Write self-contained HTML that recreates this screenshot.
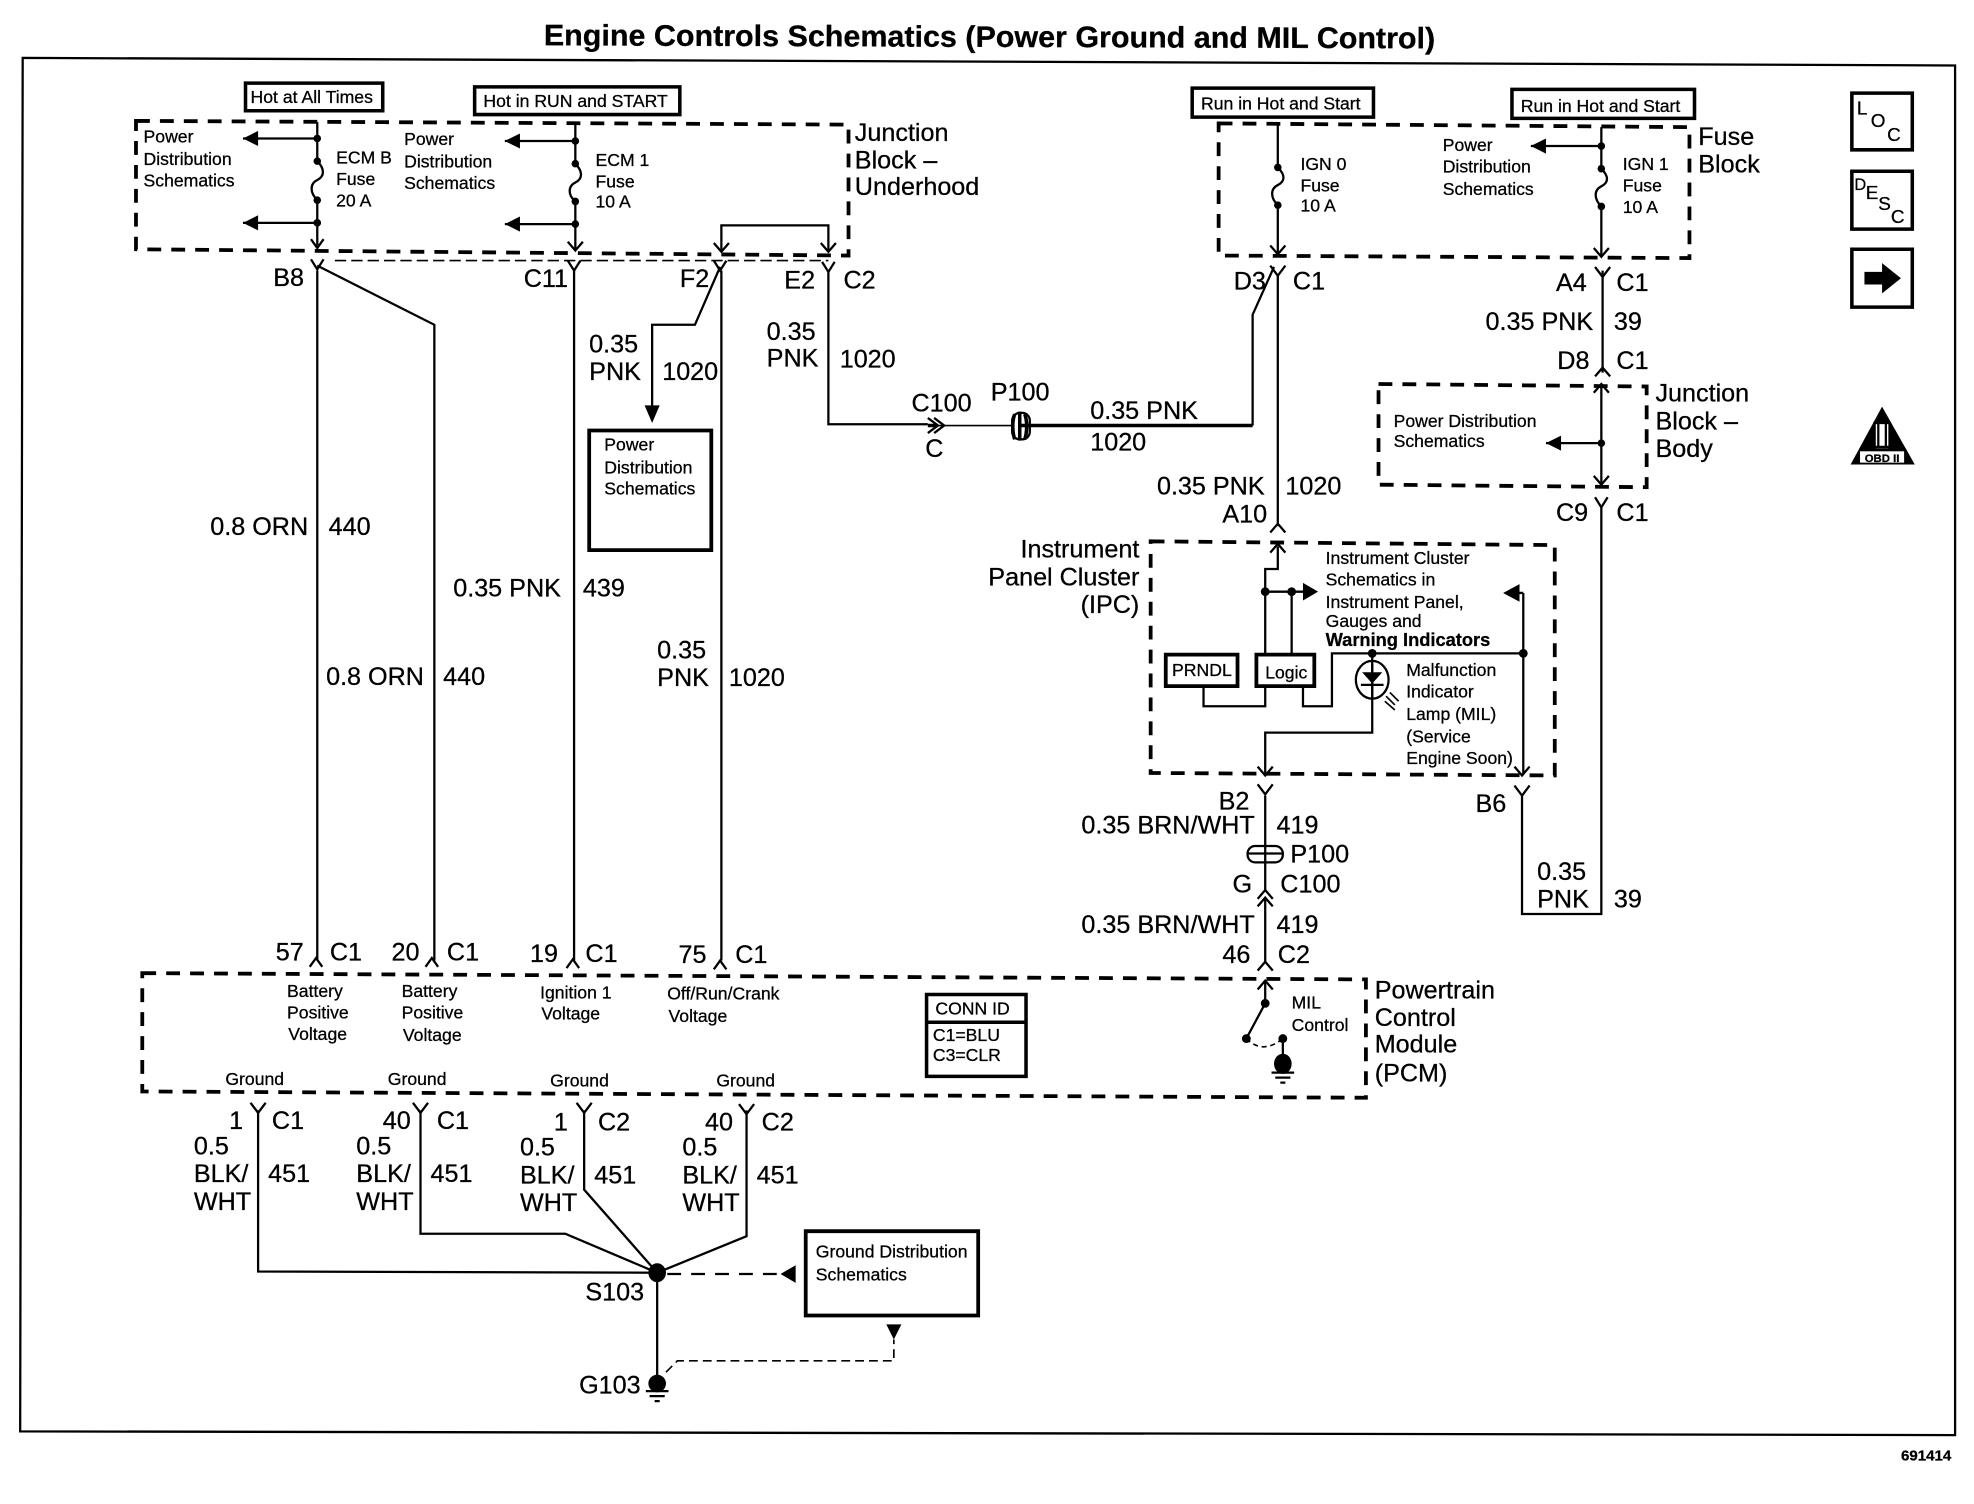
<!DOCTYPE html>
<html><head><meta charset="utf-8"><title>Engine Controls Schematics</title>
<style>
html,body{margin:0;padding:0;background:#fff}
svg{display:block}
text{font-family:"Liberation Sans",sans-serif;fill:#000;stroke:#000;stroke-width:.22}
.s{font-size:14px}
.m{font-size:20px}
.t{font-size:23.6px;font-weight:bold}
.b{font-weight:bold}
.l{fill:none;stroke:#000;stroke-width:1.8}
.n{fill:none;stroke:#000;stroke-width:1.3}
.h{fill:none;stroke:#000;stroke-width:2.8}
.d{fill:none;stroke:#000;stroke-width:3;stroke-dasharray:11 8}
.k{fill:#000}
</style></head><body>
<svg xmlns="http://www.w3.org/2000/svg" width="1974" height="1504" viewBox="0 0 1568 1194.7">
<rect width="1568" height="1195" fill="#fff"/>
<text class="t" x="432" y="36" textLength="708" lengthAdjust="spacingAndGlyphs" transform="rotate(.2 432 36)">Engine Controls Schematics (Power Ground and MIL Control)</text>
<path class="l" stroke-width="2" d="M18 46L1553 52V1140L16 1137Z"/>

<!-- header boxes -->
<g class="h">
<path d="M195 66H304V88H195Z"/><path d="M377 69H540V91H377Z"/><path d="M947 70H1091V93H947Z"/><path d="M1201 71H1346V94H1201Z"/>
<path d="M468 342H565V437H468Z" stroke-width="3"/><path d="M640 978H777V1045H640Z" stroke-width="3"/>
<path d="M926 520H983V545H926Z" stroke-width="3"/><path d="M998 520H1044V545H998Z" stroke-width="3"/>
<path d="M736 790H815V855H736ZM736 812H815"/>
<path d="M1471 74H1519V119H1471Z"/><path d="M1471 136H1519V182H1471Z"/><path d="M1471 198H1519V244H1471Z"/>
</g>
<text class="s" x="199" y="82">Hot at All Times</text>
<text class="s" x="384" y="85">Hot in RUN and START</text>
<text class="s" x="954" y="87">Run in Hot and Start</text>
<text class="s" x="1208" y="89">Run in Hot and Start</text>

<!-- dashed enclosures -->
<path class="d" d="M108 96L674 99V203L108 198Z"/>
<path class="d" d="M968 98L1342 101V205L968 203Z"/>
<path class="d" d="M1095 305L1308 307V387L1095 385Z"/>
<path class="d" d="M914 430L1235 433V616L914 614Z"/>
<path class="d" d="M113 773L1085 778V872L113 867Z"/>
<path class="n" stroke-dasharray="9 4" d="M266 207H658"/>

<!-- wires -->
<g class="l">
<path d="M252 97V128M252 159V195M193 110H252M193 177H252"/>
<path d="M252 128c6 6 6 12 0 15c-6 3-6 10 0 16M457 130c6 6 6 12 0 15c-6 3-6 10 0 15M1015 133c6 6 6 11 0 14c-6 3-6 10 0 16M1272 134c6 6 6 11 0 14c-6 3-6 10 0 16"/>
<path d="M457 98V130M457 160V199M401 112H457M401 178H457"/>
<path d="M573 200V179H658V200"/>
<path d="M1015 98V133M1015 163V201M1272 101V134M1272 164V203M1216 116H1272"/>
<path d="M252 215V763M252 211L345 258V763M456 215V763M573 215V763"/>
<path d="M572 212L552 258H518V325"/>
<path d="M658 215V337H737"/>
<path d="M1015 218V418M995 338V250L1012 212"/>
<path d="M1273 215V296M1272 306V384M1228 352H1272M1272 402V726H1209V632"/>
<path d="M1015 434V452H1005V520M1005 470H1037M1026 470V520"/>
<path d="M956 545V561H1005V545M1035 545V561H1058V519H1210M1210 471V615M1198 471H1210"/>
<path d="M1090 519V582H1005V615"/>
<path d="M1005 632V708M1005 713V765M1005 780V797L990 825"/>
<path d="M205 882V1010L522 1011M334 882V980H449L522 1011M464 882V945L522 1011M593 882V982L522 1011M522 1011V1095"/>
<path d="M1019 825V845"/>
</g>
<path class="h" d="M737 338H745M811 338H995"/>
<path class="n" d="M745 338H805"/>

<!-- connector forks -->
<g class="l" stroke-width="1.6">
<path d="M247 206l5 8 5-8M451 207l5 8 5-8M567 207l5 8 5-8M653 208l5 8 5-8"/>
<path d="M1009 211l6 8 6-8M1267 212l6 8 6-8M1267 395l5 8 5-8M999 623l6 8 6-8M1203 624l6 8 6-8"/>
<path d="M199 876l6 8 6-8M328 876l6 8 6-8M458 876l6 8 6-8M587 877l6 8 6-8"/>
<path d="M246 768l5-7 5 7M338 768l5-7 5 7M450 769l5-7 5 7M567 770l5-7 5 7"/>
<path d="M1009 423l6-7 6 7M1267 299l6-7 6 7M999 771l6-7 6 7M999 714l6-7 6 7M999 720l6-7 6 7"/>
<path d="M247 190l5 7 5-7M451 192l6 7 6-7M567 193l6 7 6-7M652 193l6 7 6-7M1009 195l6 7 6-7M1266 197l6 7 6-7"/>
<path d="M1266 312l6-7 6 7M1266 378l6 7 6-7M1009 439l6-7 6 7M999 609l6 7 6-7M1203 609l6 7 6-7M999 786l6-7 6 7"/>
<path d="M737 332l8 6-8 6M742 332l8 6-8 6"/>
</g>

<!-- arrow heads -->
<g class="k">
<path d="M193 110l12-6v12ZM193 177l12-6v12ZM401 112l12-6v12ZM401 178l12-6v12ZM1216 116l12-6v12ZM1228 352l12-6v12ZM1194 471l13-7v14ZM620 1012l12-7v14Z"/>
<path d="M518 336l-6-14h12ZM704 1052h12l-6 12ZM1047 470l-12-7v14Z"/>
<path d="M1481 216h14v-7l15 12-15 12v-7h-14Z"/>
<path d="M1495 323L1521 369H1470Z"/>
</g>

<!-- junction dots -->
<g class="k">
<circle cx="252" cy="110" r="3"/><circle cx="252" cy="128" r="3"/><circle cx="252" cy="159" r="3"/><circle cx="252" cy="177" r="3"/>
<circle cx="457" cy="112" r="3"/><circle cx="457" cy="130" r="3"/><circle cx="457" cy="160" r="3"/><circle cx="457" cy="178" r="3"/>
<circle cx="1015" cy="133" r="3"/><circle cx="1015" cy="163" r="3"/>
<circle cx="1272" cy="116" r="3"/><circle cx="1272" cy="134" r="3"/><circle cx="1272" cy="164" r="3"/><circle cx="1272" cy="352" r="3"/>
<circle cx="1005" cy="470" r="3.5"/><circle cx="1026" cy="470" r="3.5"/><circle cx="1090" cy="519" r="3.5"/><circle cx="1210" cy="519" r="3.5"/>
<circle cx="1005" cy="797" r="3.5"/><circle cx="990" cy="825" r="3.5"/><circle cx="1019" cy="825" r="3.5"/>
<ellipse cx="1019" cy="845" rx="7" ry="8"/>
<ellipse cx="522" cy="1011" rx="7" ry="7.5"/><ellipse cx="522" cy="1099" rx="7" ry="7"/>
</g>

<!-- ground symbols, switch -->
<path class="l" d="M1010 852H1028M1013 856H1025M1017 860H1021M513 1105H531M516 1109H528M520 1113H524"/>
<path class="n" stroke-dasharray="4 3" d="M990 825Q1003 838 1019 825"/>
<path class="l" stroke-dasharray="11 8" d="M530 1012H620"/>
<path class="n" stroke-dasharray="7 4" d="M529 1090L538 1081H710V1064"/>

<!-- P100 splices -->
<path class="h" d="M806 329C804 334 804 343 806 349M810 327V350M814 329C816 334 816 343 814 349" stroke-width="2.2"/>
<rect x="804" y="328" width="14" height="21" rx="6" class="l" stroke-width="1.6"/>
<rect x="991" y="672" width="28" height="13" rx="6" class="l" stroke-width="2.2"/>
<path class="l" d="M991 678H1019"/>

<!-- lamp -->
<ellipse class="l" cx="1090" cy="540" rx="13" ry="15"/>
<path class="k" d="M1082 534H1098L1090 543Z"/>
<path class="l" d="M1081 544H1099M1090 527V555"/>
<path class="n" d="M1101 553l7 7M1104 550l7 7M1100 557l8 7"/>

<!-- small labels -->
<g class="s">
<text x="114" y="113">Power</text><text x="114" y="131">Distribution</text><text x="114" y="148">Schematics</text>
<text x="321" y="115">Power</text><text x="321" y="133">Distribution</text><text x="321" y="150">Schematics</text>
<text x="267" y="130">ECM B</text><text x="267" y="147">Fuse</text><text x="267" y="164">20 A</text>
<text x="473" y="132">ECM 1</text><text x="473" y="149">Fuse</text><text x="473" y="165">10 A</text>
<text x="480" y="358">Power</text><text x="480" y="376">Distribution</text><text x="480" y="393">Schematics</text>
<text x="1033" y="135">IGN 0</text><text x="1033" y="152">Fuse</text><text x="1033" y="168">10 A</text>
<text x="1146" y="120">Power</text><text x="1146" y="137">Distribution</text><text x="1146" y="155">Schematics</text>
<text x="1289" y="135">IGN 1</text><text x="1289" y="152">Fuse</text><text x="1289" y="169">10 A</text>
<text x="1107" y="339">Power Distribution</text><text x="1107" y="355">Schematics</text>
<text x="1053" y="448">Instrument Cluster</text><text x="1053" y="465">Schematics in</text><text x="1053" y="483">Instrument Panel,</text><text x="1053" y="498">Gauges and</text><text class="b" x="1053" y="513" style="font-size:14.5px">Warning Indicators</text>
<text x="1117" y="537">Malfunction</text><text x="1117" y="554">Indicator</text><text x="1117" y="572">Lamp (MIL)</text><text x="1117" y="590">(Service</text><text x="1117" y="607">Engine Soon)</text>
<text x="931" y="537">PRNDL</text><text x="1005" y="539">Logic</text>
<text x="1026" y="801">MIL</text><text x="1026" y="819">Control</text>
<text x="228" y="792">Battery</text><text x="228" y="809">Positive</text><text x="229" y="826">Voltage</text>
<text x="319" y="792">Battery</text><text x="319" y="809">Positive</text><text x="320" y="827">Voltage</text>
<text x="429" y="793">Ignition 1</text><text x="430" y="810">Voltage</text>
<text x="530" y="794">Off/Run/Crank</text><text x="531" y="812">Voltage</text>
<text x="179" y="862">Ground</text><text x="308" y="862">Ground</text><text x="437" y="863">Ground</text><text x="569" y="863">Ground</text>
<text x="743" y="806">CONN ID</text><text x="741" y="827">C1=BLU</text><text x="741" y="843">C3=CLR</text>
<text x="648" y="999">Ground Distribution</text><text x="648" y="1017">Schematics</text>
</g>

<!-- medium labels -->
<g class="m">
<text x="679" y="112">Junction</text><text x="679" y="134">Block –</text><text x="679" y="155">Underhood</text>
<text x="1349" y="115">Fuse</text><text x="1349" y="137">Block</text>
<text x="1315" y="319">Junction</text><text x="1315" y="341">Block –</text><text x="1315" y="363">Body</text>
<text x="217" y="227">B8</text><text x="416" y="228">C11</text><text x="540" y="228">F2</text><text x="623" y="229">E2</text><text x="670" y="229">C2</text>
<text x="468" y="280">0.35</text><text x="468" y="302">PNK</text><text x="526" y="302">1020</text>
<text x="609" y="270">0.35</text><text x="609" y="291">PNK</text><text x="667" y="292">1020</text>
<text x="724" y="327">C100</text><text x="735" y="363">C</text><text x="787" y="318">P100</text>
<text x="866" y="333">0.35 PNK</text><text x="866" y="358">1020</text>
<text x="167" y="425">0.8 ORN</text><text x="261" y="425">440</text>
<text x="259" y="544">0.8 ORN</text><text x="352" y="544">440</text>
<text x="360" y="474">0.35 PNK</text><text x="463" y="474">439</text>
<text x="522" y="523">0.35</text><text x="522" y="545">PNK</text><text x="579" y="545">1020</text>
<text x="219" y="763">57</text><text x="262" y="763">C1</text><text x="311" y="763">20</text><text x="355" y="763">C1</text>
<text x="421" y="764">19</text><text x="465" y="764">C1</text><text x="539" y="765">75</text><text x="584" y="765">C1</text>
<text x="980" y="230">D3</text><text x="1027" y="230">C1</text><text x="1236" y="231">A4</text><text x="1284" y="231">C1</text>
<text x="1180" y="262">0.35 PNK</text><text x="1282" y="262">39</text>
<text x="1237" y="293">D8</text><text x="1284" y="293">C1</text>
<text x="1236" y="414">C9</text><text x="1284" y="414">C1</text>
<text x="919" y="393">0.35 PNK</text><text x="1021" y="393">1020</text><text x="971" y="415">A10</text>
<text x="905" y="443" text-anchor="end">Instrument</text><text x="905" y="465" text-anchor="end">Panel Cluster</text><text x="905" y="487" text-anchor="end">(IPC)</text>
<text x="968" y="643">B2</text><text x="1172" y="645">B6</text>
<text x="859" y="662">0.35 BRN/WHT</text><text x="1014" y="662">419</text>
<text x="1025" y="685">P100</text><text x="979" y="709">G</text><text x="1017" y="709">C100</text>
<text x="859" y="741">0.35 BRN/WHT</text><text x="1014" y="741">419</text>
<text x="971" y="765">46</text><text x="1015" y="765">C2</text>
<text x="1221" y="699">0.35</text><text x="1221" y="721">PNK</text><text x="1282" y="721">39</text>
<text x="1092" y="793">Powertrain</text><text x="1092" y="815">Control</text><text x="1092" y="836">Module</text><text x="1092" y="859">(PCM)</text>
<text x="182" y="897">1</text><text x="216" y="897">C1</text><text x="304" y="897">40</text><text x="347" y="897">C1</text>
<text x="440" y="898">1</text><text x="475" y="898">C2</text><text x="560" y="898">40</text><text x="605" y="898">C2</text>
<text x="154" y="917">0.5</text><text x="154" y="939">BLK/</text><text x="154" y="961">WHT</text><text x="213" y="939">451</text>
<text x="283" y="917">0.5</text><text x="283" y="939">BLK/</text><text x="283" y="961">WHT</text><text x="342" y="939">451</text>
<text x="413" y="918">0.5</text><text x="413" y="940">BLK/</text><text x="413" y="962">WHT</text><text x="472" y="940">451</text>
<text x="542" y="918">0.5</text><text x="542" y="940">BLK/</text><text x="542" y="962">WHT</text><text x="601" y="940">451</text>
<text x="465" y="1033">S103</text><text x="460" y="1107">G103</text>
</g>

<!-- side icons -->
<g>
<text x="1475" y="91" style="font-size:15px">L</text><text x="1486" y="101" style="font-size:15px">O</text><text x="1499" y="112" style="font-size:15px">C</text>
<text x="1473" y="151" style="font-size:13px">D</text><text x="1482" y="158" style="font-size:15px">E</text><text x="1492" y="167" style="font-size:15px">S</text><text x="1502" y="177" style="font-size:15px">C</text>
</g>
<rect x="1490" y="336" width="10" height="20" fill="#fff"/>
<path class="l" d="M1488 336H1502M1488 355H1502M1492 336V355M1498 336V355"/>
<rect x="1477" y="358" width="36" height="10" fill="#fff" stroke="#000"/>
<text x="1495" y="367" text-anchor="middle" class="b" style="font-size:9px">OBD II</text>
<text x="1510" y="1160" class="b" style="font-size:12px">691414</text>
</svg>
</body></html>
